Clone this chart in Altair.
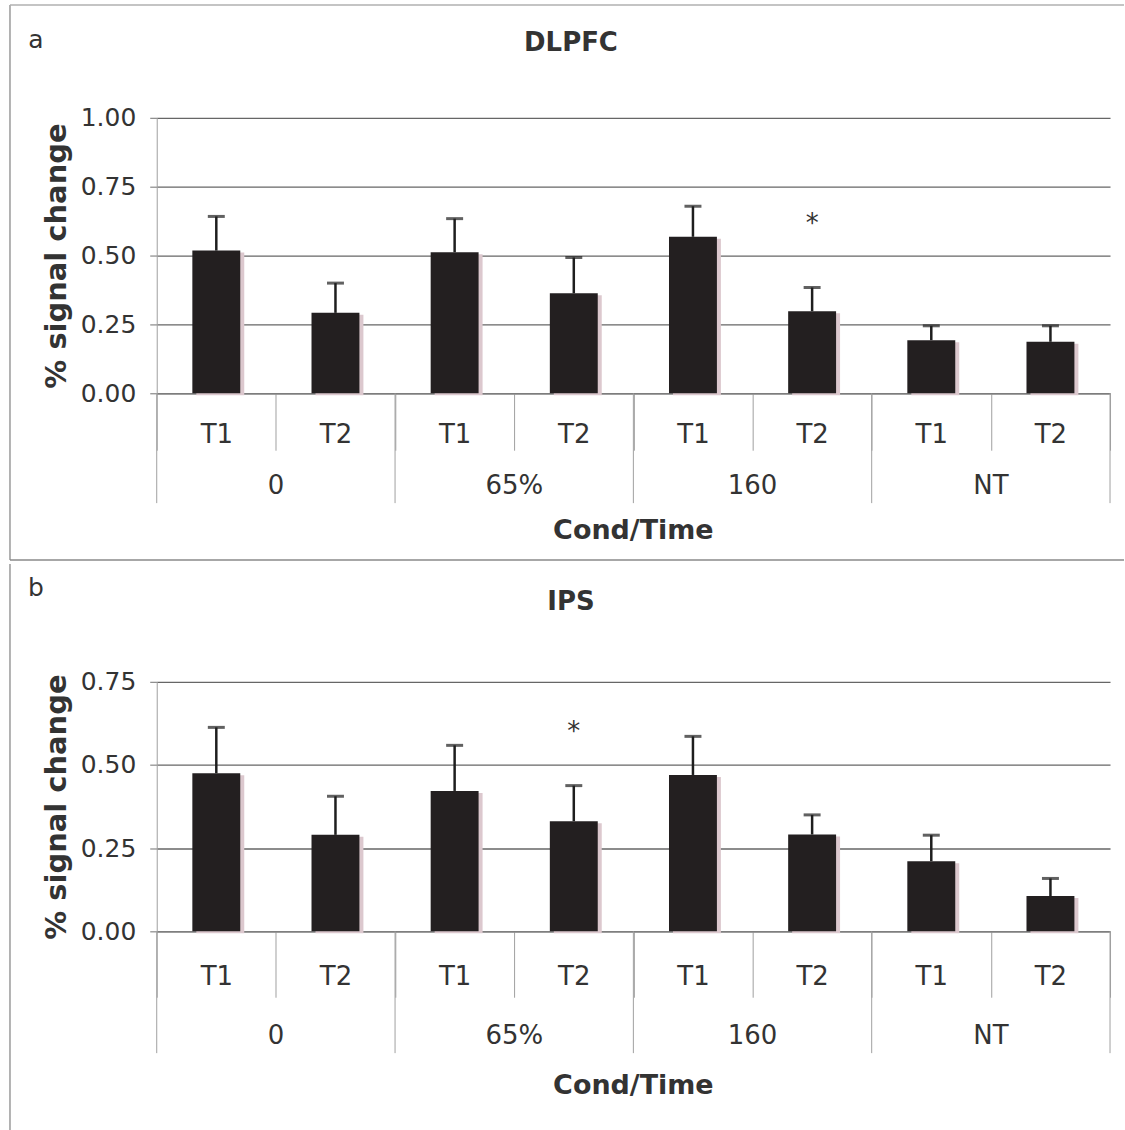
import altair as alt
import pandas as pd

# ---- data ----
groups = ["0", "65%", "160", "NT"]
times = ["T1", "T2"]

dlpfc_mean = [0.518, 0.292, 0.512, 0.363, 0.568, 0.298, 0.193, 0.187]
dlpfc_err = [0.124, 0.108, 0.122, 0.130, 0.111, 0.086, 0.052, 0.058]
dlpfc_star = ("160|T2", 0.615)

ips_mean = [0.475, 0.290, 0.422, 0.331, 0.470, 0.291, 0.211, 0.106]
ips_err = [0.138, 0.116, 0.137, 0.107, 0.116, 0.059, 0.078, 0.053]
ips_star = ("65%|T2", 0.600)

dlpfc_ticks = [0, 0.25, 0.5, 0.75, 1.0]
ips_ticks = [0, 0.25, 0.5, 0.75]

cats = [f"{g}|{t}" for g in groups for t in times]

FONT = "DejaVu Sans"
TXT = "#333333"
W = 955
STEP = W / len(cats)


def panel(mean, err, star, ticks, ymax, height, letter, title,
          sep_short, lab_center, grp_center, xt_center, sep_long,
          top_frame, bottom_frame, title_y, letter_y):
    df = pd.DataFrame({"cat": cats, "mean": mean, "err": err})
    df["hi"] = df["mean"] + df["err"]

    X = alt.X(
        "cat:N", sort=cats, title=None,
        scale=alt.Scale(paddingInner=0, paddingOuter=0),
        axis=alt.Axis(
            labelExpr="split(datum.label, '|')[1]",
            labelAngle=0, labelFont=FONT, labelFontSize=26, labelColor=TXT,
            labelBaseline="middle", labelPadding=lab_center - sep_short,
            tickBand="extent", tickSize=sep_short, tickColor="#a0a0a0",
            tickWidth=1, domainColor="#777777", domainWidth=1, grid=False,
        ),
    )
    Y = alt.Y(
        "mean:Q", title="% signal change",
        scale=alt.Scale(domain=[0, ymax], nice=False, zero=True),
        axis=alt.Axis(
            values=ticks, format=".2f", labelFont=FONT, labelFontSize=25,
            labelColor=TXT, labelPadding=14, tickSize=7, tickColor="#707070",
            domainColor="#a0a0a0", grid=True, gridColor="#666666",
            gridWidth=1.3, titleFont=FONT, titleFontSize=29,
            titleFontWeight="bold", titleColor=TXT, titleAngle=270,
            titleX=-100, titleY=height / 2, titleAlign="center",
            titleBaseline="middle",
        ),
    )

    base = alt.Chart(df).encode(x=X)
    shadow = base.mark_bar(width=48, color="#dcc8ce", xOffset=4, yOffset=2).encode(y=Y)
    bars = base.mark_bar(width=48, color="#231f20").encode(y=Y)
    err_rule = base.mark_rule(color="#1e1e1e", strokeWidth=2.5).encode(
        y=alt.Y("hi:Q"), y2="mean:Q")
    cap = base.mark_tick(color="#1e1e1e", size=17, thickness=3).encode(
        y=alt.Y("hi:Q"))

    star_df = pd.DataFrame({"cat": [star[0]], "mean": [star[1]]})
    star_mark = alt.Chart(star_df).mark_text(
        text="*", font=FONT, fontSize=26, color=TXT, baseline="middle"
    ).encode(x=X, y=Y)

    gdf = pd.DataFrame({"cat": [f"{g}|T1" for g in groups], "label": groups})
    gsep = alt.Chart(gdf).mark_rule(xOffset=-STEP / 2, color="#a0a0a0", strokeWidth=1).encode(
        x=X, y=alt.value(height), y2=alt.value(height + sep_long))
    redge = alt.Chart(pd.DataFrame({"cat": [cats[-1]]})).mark_rule(
        xOffset=STEP / 2, color="#a0a0a0", strokeWidth=1).encode(
        x=X, y=alt.value(height), y2=alt.value(height + sep_long))
    glab = alt.Chart(gdf).mark_text(
        dx=STEP / 2, font=FONT, fontSize=26, color=TXT, baseline="middle"
    ).encode(x=X, y=alt.value(height + grp_center), text="label:N")

    deco = pd.DataFrame({"t": [title], "l": [letter], "x": ["Cond/Time"]})
    xtitle = alt.Chart(deco).mark_text(
        font=FONT, fontSize=27, fontWeight="bold", color=TXT, baseline="middle"
    ).encode(x=alt.value(W / 2), y=alt.value(height + xt_center), text="x:N")
    ttl = alt.Chart(deco).mark_text(
        font=FONT, fontSize=26, fontWeight="bold", color=TXT, baseline="middle"
    ).encode(x=alt.value(415), y=alt.value(title_y), text="t:N")
    let = alt.Chart(deco).mark_text(
        font=FONT, fontSize=25, color=TXT, baseline="middle"
    ).encode(x=alt.value(-121), y=alt.value(letter_y), text="l:N")

    frame_df = pd.DataFrame({"k": [0]})
    fl = alt.Chart(frame_df).mark_rule(color="#9a9a9a", strokeWidth=1.5).encode(
        x=alt.value(-147), y=alt.value(top_frame), y2=alt.value(bottom_frame))
    layers = [fl]
    if letter == "a":
        ft = alt.Chart(frame_df).mark_rule(color="#b0b0b0", strokeWidth=1.5).encode(
            y=alt.value(top_frame), x=alt.value(-147), x2=alt.value(969))
        fb = alt.Chart(frame_df).mark_rule(color="#8a8a8a", strokeWidth=1.5).encode(
            y=alt.value(bottom_frame), x=alt.value(-147), x2=alt.value(969))
        layers += [ft, fb]

    return alt.layer(
        *layers, shadow, bars, err_rule, cap, star_mark, gsep, redge, glab,
        xtitle, ttl, let,
    ).properties(width=W, height=height)


pa = panel(dlpfc_mean, dlpfc_err, dlpfc_star, dlpfc_ticks, 1.0, 276, "a", "DLPFC",
           sep_short=57, lab_center=41, grp_center=93, xt_center=138, sep_long=110,
           top_frame=-113, bottom_frame=443, title_y=-75, letter_y=-78)
pb = panel(ips_mean, ips_err, ips_star, ips_ticks, 0.75, 250, "b", "IPS",
           sep_short=66, lab_center=45, grp_center=105, xt_center=155, sep_long=122,
           top_frame=-118, bottom_frame=450, title_y=-80, letter_y=-94)

chart = alt.vconcat(pa, pb, spacing=2).properties(
    padding={"left": 9, "top": 3, "right": 0, "bottom": 0},
    background="white",
).configure_view(strokeWidth=0)

chart.save("out.html", embed_options={"renderer": "svg", "actions": False})
